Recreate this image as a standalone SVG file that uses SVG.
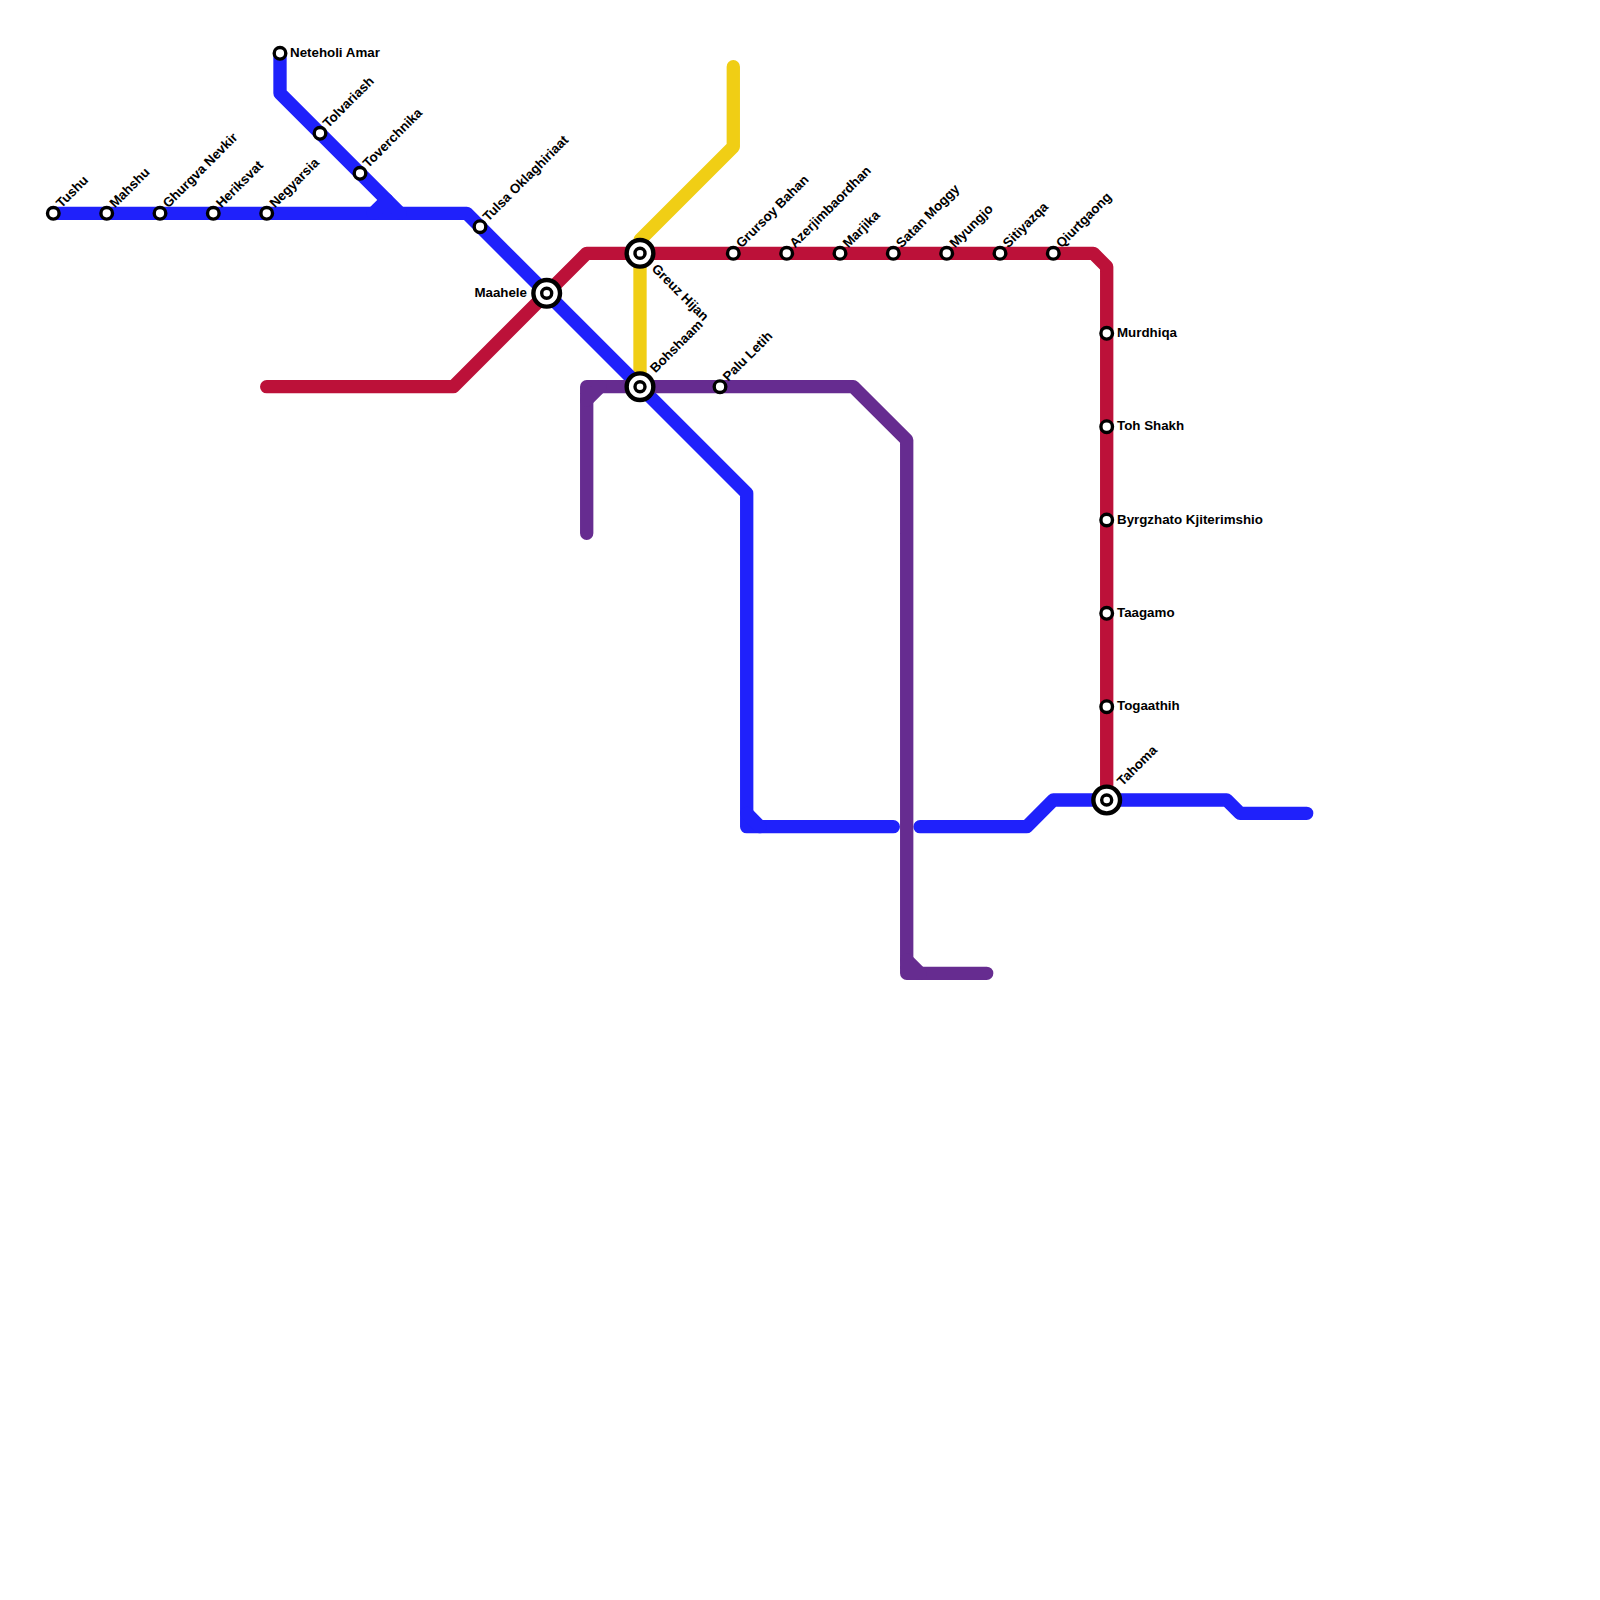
<svg xmlns="http://www.w3.org/2000/svg" width="1600" height="1600" viewBox="0 0 1600 1600">
<style>
.l{fill:none;stroke-width:13.33;stroke-linecap:round;stroke-linejoin:round}
.b{stroke:#1f21fb}.r{stroke:#bc1139}.y{stroke:#f0ce15}.p{stroke:#662c90}
.s{fill:#fff;stroke:#000;stroke-width:3.4}
.o{fill:#fff;stroke:#000;stroke-width:4.4}
.t{font-family:"Liberation Sans",Arial,sans-serif;font-size:13.33px;font-weight:700;fill:#000}
</style>
<defs>
<g id="st"><circle class="s" r="5.8"/></g>
<g id="ic"><circle class="o" r="13.33"/><circle class="s" r="5"/></g>
</defs>
<g id="connectors">
<path class="l y" d="M640 386.7V240L733.3 146.7V66.7"/>
<path class="l r" d="M266.7 386.7H453.3L586.7 253.3H1093.3L1106.7 266.7V800"/>
<path class="l b" d="M53.3 213.3H466.7L746.7 493.3V826.7H893.3"/>
<path class="l b" d="M280 53.3V93.3L400 213.3"/>
<path class="l b" d="M373.3 213.3L386.7 200"/>
<path class="l b" d="M746.7 813.3L760 826.7"/>
<path class="l b" d="M920 826.7H1026.7L1053.3 800H1226.7L1240 813.3H1306.7"/>
<path class="l p" d="M586.7 533.3V386.7H853.3L906.7 440V973.3H986.7"/>
<path class="l p" d="M586.7 400L600 386.7"/>
<path class="l p" d="M906.7 960L920 973.3"/>
</g>
<g id="n1"><use href="#st" x="53.3" y="213.3"/><text class="t" transform="translate(61.5 208.5) rotate(-45)">Tushu</text></g>
<g id="n2"><use href="#st" x="106.7" y="213.3"/><text class="t" transform="translate(114.9 208.5) rotate(-45)">Mahshu</text></g>
<g id="n3"><use href="#st" x="160" y="213.3"/><text class="t" transform="translate(168.2 208.5) rotate(-45)">Ghurgva Nevkir</text></g>
<g id="n4"><use href="#st" x="213.3" y="213.3"/><text class="t" transform="translate(221.5 208.5) rotate(-45)">Heriksvat</text></g>
<g id="n5"><use href="#st" x="266.7" y="213.3"/><text class="t" transform="translate(274.9 208.5) rotate(-45)">Negyarsia</text></g>
<g id="n6"><use href="#st" x="280" y="53.3"/><text class="t" x="290" y="57">Neteholi Amar</text></g>
<g id="n7"><use href="#st" x="320" y="133.3"/><text class="t" transform="translate(328.2 128.5) rotate(-45)">Tolvariash</text></g>
<g id="n8"><use href="#st" x="360" y="173.3"/><text class="t" transform="translate(368.2 168.5) rotate(-45)">Toverchnika</text></g>
<g id="n9"><use href="#st" x="480" y="226.7"/><text class="t" transform="translate(488.2 221.9) rotate(-45)">Tulsa Oklaghiriaat</text></g>
<g id="n10"><use href="#ic" x="546.7" y="293.3"/><text class="t" x="527" y="297" text-anchor="end">Maahele</text></g>
<g id="n11"><use href="#ic" x="640" y="253.3"/><text class="t" transform="translate(651 269.5) rotate(45)">Greuz Hijan</text></g>
<g id="n12"><use href="#ic" x="640" y="386.7"/><text class="t" transform="translate(655.5 373.5) rotate(-45)">Bohshaam</text></g>
<g id="n13"><use href="#st" x="720" y="386.7"/><text class="t" transform="translate(728.2 381.9) rotate(-45)">Palu Letih</text></g>
<g id="n14"><use href="#st" x="733.3" y="253.3"/><text class="t" transform="translate(741.5 248.5) rotate(-45)">Grursoy Bahan</text></g>
<g id="n15"><use href="#st" x="786.7" y="253.3"/><text class="t" transform="translate(794.9 248.5) rotate(-45)">Azerjimbaordhan</text></g>
<g id="n16"><use href="#st" x="840" y="253.3"/><text class="t" transform="translate(848.2 248.5) rotate(-45)">Marjika</text></g>
<g id="n17"><use href="#st" x="893.3" y="253.3"/><text class="t" transform="translate(901.5 248.5) rotate(-45)">Satan Moggy</text></g>
<g id="n18"><use href="#st" x="946.7" y="253.3"/><text class="t" transform="translate(954.9 248.5) rotate(-45)">Myungjo</text></g>
<g id="n19"><use href="#st" x="1000" y="253.3"/><text class="t" transform="translate(1008.2 248.5) rotate(-45)">Sitiyazqa</text></g>
<g id="n20"><use href="#st" x="1053.3" y="253.3"/><text class="t" transform="translate(1061.5 248.5) rotate(-45)">Qiurtgaong</text></g>
<g id="n21"><use href="#st" x="1106.7" y="333.3"/><text class="t" x="1117" y="337">Murdhiqa</text></g>
<g id="n22"><use href="#st" x="1106.7" y="426.7"/><text class="t" x="1117" y="430.4">Toh Shakh</text></g>
<g id="n23"><use href="#st" x="1106.7" y="520"/><text class="t" x="1117" y="523.7">Byrgzhato Kjiterimshio</text></g>
<g id="n24"><use href="#st" x="1106.7" y="613.3"/><text class="t" x="1117" y="617">Taagamo</text></g>
<g id="n25"><use href="#st" x="1106.7" y="706.7"/><text class="t" x="1117" y="710.4">Togaathih</text></g>
<g id="n26"><use href="#ic" x="1106.7" y="800"/><text class="t" transform="translate(1122.5 786.5) rotate(-45)">Tahoma</text></g>
</svg>
